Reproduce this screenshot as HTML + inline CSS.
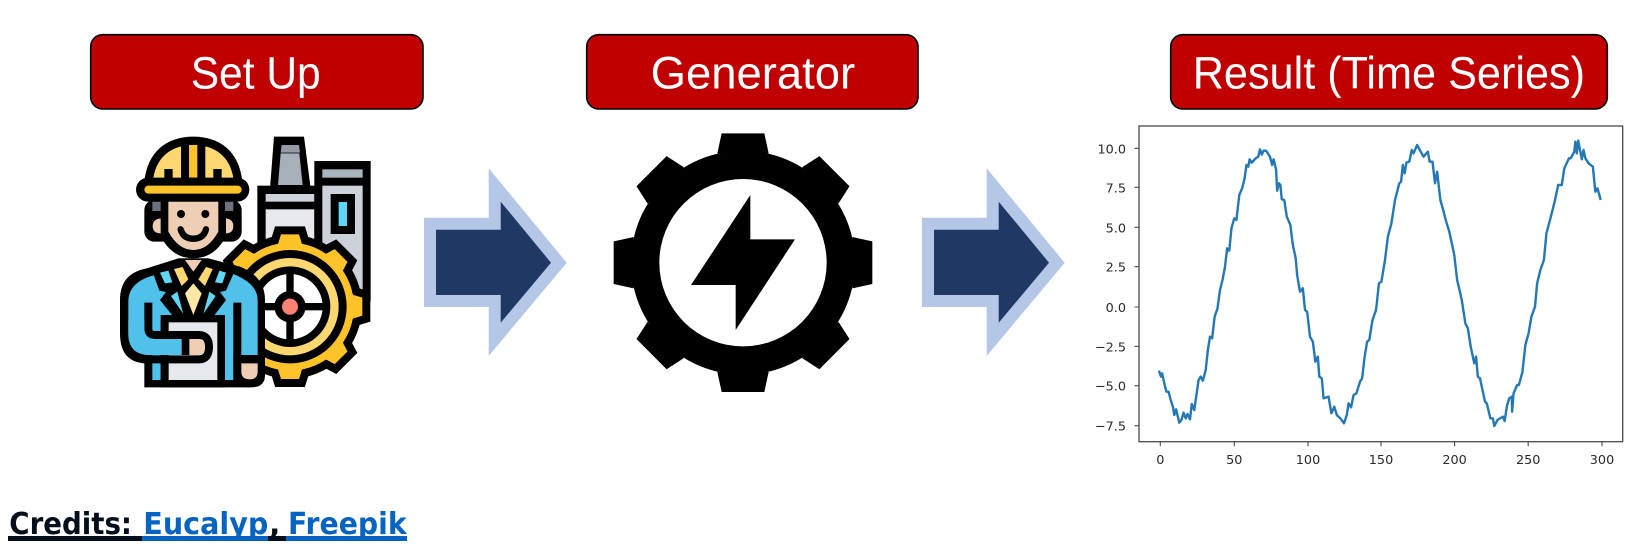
<!DOCTYPE html>
<html lang="en">
<head>
<meta charset="utf-8">
<title>Set Up, Generator, Result</title>
<style>
html,body{margin:0;padding:0;background:#fff;width:1650px;height:556px;overflow:hidden}
svg{display:block}
text{font-family:"Liberation Sans",sans-serif}
.t{fill:#fff;font-size:45px;text-anchor:start}
.c{font-family:"DejaVu Sans",sans-serif;font-weight:bold;font-size:30px}
.k{font-family:"DejaVu Sans",sans-serif;font-size:12.8px;fill:#2a2a2a}
</style>
</head>
<body>
<svg width="1650" height="556" viewBox="0 0 1650 556" xmlns="http://www.w3.org/2000/svg">
<rect width="1650" height="556" fill="#fff"/>

<!-- Header boxes -->
<rect x="90.7" y="34.7" width="332.3" height="74.3" rx="12" fill="#c00000" stroke="#000" stroke-width="1.6"/>
<rect x="586.7" y="34.7" width="331.3" height="74.3" rx="12" fill="#c00000" stroke="#000" stroke-width="1.6"/>
<rect x="1170.7" y="34.7" width="436.6" height="74.3" rx="12" fill="#c00000" stroke="#000" stroke-width="1.6"/>
<text class="t" x="190.7" y="88.3" textLength="130" lengthAdjust="spacingAndGlyphs">Set Up</text>
<text class="t" x="650.7" y="88.3" textLength="204.5" lengthAdjust="spacingAndGlyphs">Generator</text>
<text class="t" x="1192.7" y="88.3" textLength="392.3" lengthAdjust="spacingAndGlyphs">Result (Time Series)</text>

<!-- Arrows -->
<g>
<polygon points="424,217.7 488.7,217.7 488.7,168.3 566.7,262.7 488.7,356 488.7,307 424,307" fill="#b4c7e7"/>
<polygon points="436,229.7 500.7,229.7 500.7,201.7 551,262.7 500.7,322.7 500.7,295 436,295" fill="#203864"/>
</g>
<g transform="translate(498,0)">
<polygon points="424,217.7 488.7,217.7 488.7,168.3 566.7,262.7 488.7,356 488.7,307 424,307" fill="#b4c7e7"/>
<polygon points="436,229.7 500.7,229.7 500.7,201.7 551,262.7 500.7,322.7 500.7,295 436,295" fill="#203864"/>
</g>

<!-- Generator gear (3x coordinates) -->
<g transform="translate(410,120) scale(0.33333)">
<circle cx="999" cy="428" r="336" fill="#000"/>
<polygon points="935,40 1063,40 1076,100 922,100" fill="#000"/>
<polygon points="935,40 1063,40 1076,100 922,100" transform="rotate(45 999 428)"/>
<polygon points="935,40 1063,40 1076,100 922,100" transform="rotate(90 999 428)"/>
<polygon points="935,40 1063,40 1076,100 922,100" transform="rotate(135 999 428)"/>
<polygon points="935,40 1063,40 1076,100 922,100" transform="rotate(180 999 428)"/>
<polygon points="935,40 1063,40 1076,100 922,100" transform="rotate(225 999 428)"/>
<polygon points="935,40 1063,40 1076,100 922,100" transform="rotate(270 999 428)"/>
<polygon points="935,40 1063,40 1076,100 922,100" transform="rotate(315 999 428)"/>
<circle cx="999" cy="428" r="251" fill="#fff"/>
<polygon points="1021,225 1021,358 1155,358 977,630 977,495 843,495" fill="#000"/>
</g>

<!-- Worker icon (3x coordinates) -->
<g transform="translate(100,120) scale(0.33333)">
<!-- factory -->
<polygon points="522,50 612,50 632,205 510,205" fill="#000"/>
<polygon points="545,75 597,75 600,98 542,98" fill="#959ba6"/>
<polygon points="542,100 598,100 608,195 534,195" fill="#a8b0ba"/>
<rect x="472" y="197" width="180" height="220" fill="#000"/>
<rect x="497" y="222" width="146" height="23" fill="#cdd2db"/>
<rect x="497" y="268" width="146" height="100" fill="#e5e8ec"/>
<rect x="643" y="123" width="169" height="420" fill="#000"/>
<rect x="667" y="148" width="121" height="25" fill="#a8b4bd"/>
<rect x="667" y="197" width="121" height="330" fill="#cdd1da"/>
<rect x="692" y="222" width="73" height="120" fill="#000"/>
<rect x="716" y="246" width="25" height="72" fill="#5fd6f4"/>

<!-- small gear -->
<g fill="#000" stroke="#000" stroke-width="48" stroke-linejoin="miter">
<circle cx="570" cy="560" r="192"/>
<polygon points="543,343 597,343 610,385 530,385"/>
<polygon points="543,343 597,343 610,385 530,385" transform="rotate(45 570 560)"/>
<polygon points="543,343 597,343 610,385 530,385" transform="rotate(90 570 560)"/>
<polygon points="543,343 597,343 610,385 530,385" transform="rotate(135 570 560)"/>
<polygon points="543,343 597,343 610,385 530,385" transform="rotate(180 570 560)"/>
<polygon points="543,343 597,343 610,385 530,385" transform="rotate(225 570 560)"/>
<polygon points="543,343 597,343 610,385 530,385" transform="rotate(270 570 560)"/>
<polygon points="543,343 597,343 610,385 530,385" transform="rotate(315 570 560)"/>
</g>
<g fill="#fdc328">
<circle cx="570" cy="560" r="192"/>
<polygon points="543,343 597,343 610,385 530,385"/>
<polygon points="543,343 597,343 610,385 530,385" transform="rotate(45 570 560)"/>
<polygon points="543,343 597,343 610,385 530,385" transform="rotate(90 570 560)"/>
<polygon points="543,343 597,343 610,385 530,385" transform="rotate(135 570 560)"/>
<polygon points="543,343 597,343 610,385 530,385" transform="rotate(180 570 560)"/>
<polygon points="543,343 597,343 610,385 530,385" transform="rotate(225 570 560)"/>
<polygon points="543,343 597,343 610,385 530,385" transform="rotate(270 570 560)"/>
<polygon points="543,343 597,343 610,385 530,385" transform="rotate(315 570 560)"/>
</g>
<circle cx="570" cy="560" r="170" fill="#000"/>
<circle cx="570" cy="560" r="146" fill="#fdd770"/>
<circle cx="570" cy="560" r="121" fill="#000"/>
<circle cx="570" cy="560" r="98" fill="#fff"/>
<rect x="559" y="460" width="22" height="200" fill="#000"/>
<rect x="470" y="549" width="200" height="22" fill="#000"/>
<circle cx="570" cy="560" r="47" fill="#000"/>
<circle cx="570" cy="560" r="24" fill="#fd8173"/>

<!-- body -->
<path d="M140,445 L235,415 L325,415 L420,440 Q495,470 495,540 L495,765 Q495,802 455,802 L133,802 L133,730 Q60,725 60,640 L60,540 Q60,460 140,445 Z" fill="#000"/>
<path d="M165,465 Q85,485 85,545 L85,640 Q85,705 150,705 L157,705 L157,780 L182,780 L182,600 L375,600 L375,780 L400,780 L400,705 L473,705 L473,540 Q473,485 380,455 Z" fill="#4fc1ea"/>
<!-- paper -->
<rect x="182" y="585" width="193" height="217" fill="#000"/>
<rect x="206" y="607" width="146" height="173" fill="#e5e8ec"/>
<!-- arm -->
<path d="M145,548 L145,625 Q145,645 165,645 L296,645 Q327,645 327,681 Q327,718 296,718 L135,718" fill="none" stroke="#000" stroke-width="24"/>
<path d="M85,600 L85,640 Q85,705 150,705 L245,705 L245,657 L160,657 Q133,657 133,630 L133,600 Z" fill="#4fc1ea"/>
<rect x="245" y="657" width="24" height="48" fill="#000"/>
<path d="M268,657 L292,657 Q315,660 315,682 Q315,705 290,705 L268,705 Z" fill="#eecfb6"/>
<!-- right sleeve -->
<path d="M412,548 L412,760 Q412,790 445,790" fill="none" stroke="#000" stroke-width="24"/>
<rect x="424" y="705" width="71" height="25" fill="#000"/>
<path d="M424,730 L473,730 L473,755 Q473,778 449,778 Q424,778 424,755 Z" fill="#eecfb6"/>
<!-- collar -->
<polygon points="160,462 235,415 325,415 400,462 378,512 360,516 378,540 340,590 220,590 180,540 198,516 178,512" fill="#000"/>
<polygon points="255,420 305,420 280,455" fill="#eecfb6"/>
<polygon points="222,447 248,441 265,478 245,498" fill="#fdd770"/>
<polygon points="295,478 318,441 338,447 315,498" fill="#fdd770"/>
<polygon points="180,458 205,452 217,487 195,490" fill="#5fd6f4"/>
<polygon points="358,452 378,458 367,490 345,487" fill="#5fd6f4"/>
<polygon points="280,490 305,520 280,585 255,520" fill="#fde9a5"/>
<polygon points="213,528 232,515 250,582" fill="#5fd6f4"/>
<polygon points="347,528 328,515 310,582" fill="#5fd6f4"/>

<!-- head -->
<rect x="133" y="240" width="292" height="125" rx="30" fill="#000"/>
<path d="M180,300 L380,300 L380,345 Q345,415 280,415 Q215,415 180,345 Z" fill="#000"/>
<rect x="157" y="245" width="25" height="28" fill="#6c727f"/>
<rect x="375" y="245" width="25" height="28" fill="#6c727f"/>
<path d="M182,295 Q158,298 158,318 Q158,340 182,340 Z" fill="#eecfb6"/>
<path d="M378,295 Q400,298 400,318 Q400,340 378,340 Z" fill="#eecfb6"/>
<path d="M205,245 L355,245 L355,335 Q325,390 280,390 Q235,390 205,335 Z" fill="#eecfb6"/>
<circle cx="243" cy="282" r="12" fill="#000"/>
<circle cx="316" cy="282" r="12" fill="#000"/>
<path d="M242,328 Q250,356 280,356 Q310,356 318,328" fill="none" stroke="#000" stroke-width="19" stroke-linecap="round"/>

<!-- helmet -->
<path d="M133,185 C142,95 200,50 280,50 C360,50 418,95 427,185 Z" fill="#000"/>
<path d="M160,174 C170,110 215,75 280,75 C345,75 390,110 400,174 Z" fill="#fdd770"/>
<rect x="243" y="72" width="73" height="104" fill="#000"/>
<rect x="267" y="75" width="25" height="98" fill="#fdc328"/>
<rect x="193" y="147" width="25" height="28" fill="#000"/>
<rect x="340" y="147" width="25" height="28" fill="#000"/>
<rect x="108" y="173" width="340" height="72" rx="36" fill="#000"/>
<rect x="133" y="197" width="292" height="24" rx="12" fill="#fdc328"/>
</g>

<!-- Chart -->
<rect x="1139" y="126" width="483.7" height="315.7" fill="#fff" stroke="#4a4a4a" stroke-width="1.3"/>
<g stroke="#4a4a4a" stroke-width="1.1" fill="none">
<path d="M1160.3,441.7v4.5M1234.3,441.7v4.5M1308,441.7v4.5M1381,441.7v4.5M1454.6,441.7v4.5M1528.2,441.7v4.5M1602,441.7v4.5"/>
<path d="M1139,148.3h-4.5M1139,187.3h-4.5M1139,227.3h-4.5M1139,266.7h-4.5M1139,307h-4.5M1139,346.3h-4.5M1139,385.7h-4.5M1139,425.7h-4.5"/>
</g>
<g style="filter:blur(0.3px)">
<g text-anchor="end">
<text class="k" x="1126" y="153.3">10.0</text>
<text class="k" x="1126" y="192.3">7.5</text>
<text class="k" x="1126" y="232.3">5.0</text>
<text class="k" x="1126" y="271.7">2.5</text>
<text class="k" x="1126" y="312">0.0</text>
<text class="k" x="1126" y="351.3">−2.5</text>
<text class="k" x="1126" y="390.7">−5.0</text>
<text class="k" x="1126" y="430.7">−7.5</text>
</g>
<g text-anchor="middle">
<text class="k" x="1160.3" y="464">0</text>
<text class="k" x="1234.3" y="464">50</text>
<text class="k" x="1308" y="464">100</text>
<text class="k" x="1381" y="464">150</text>
<text class="k" x="1454.6" y="464">200</text>
<text class="k" x="1528.2" y="464">250</text>
<text class="k" x="1602" y="464">300</text>
</g>
</g>
<g transform="translate(1060,120) scale(0.35714,0.33333)">
<polyline fill="none" stroke="#2478b6" stroke-width="2.4" vector-effect="non-scaling-stroke" stroke-linejoin="round" points="277,752 283,770 286,760 289,775 293,795 298,815 304,815 310,840 316,860 320,885 325,868 330,890 334,908 340,900 346,878 352,895 357,882 364,898 369,852 376,870 382,825 388,780 394,770 400,782 408,750 414,690 420,650 426,655 433,590 441,565 448,510 455,480 462,440 468,385 474,392 480,325 488,295 494,300 502,225 510,205 517,175 522,135 527,140 531,118 537,128 548,115 555,110 560,88 565,104 570,92 577,92 588,110 594,135 598,118 605,148 608,212 613,190 617,195 621,238 628,240 635,290 645,315 652,375 660,415 664,465 672,515 680,505 686,570 692,575 700,650 708,665 715,725 722,710 726,770 733,775 738,835 752,830 760,880 768,860 775,885 785,895 795,910 803,885 808,850 815,862 822,825 830,820 840,785 846,775 853,710 860,665 866,660 875,600 885,570 893,490 900,485 910,420 918,350 928,310 938,240 950,190 955,185 960,135 965,160 970,128 978,125 985,90 990,100 1000,75 1010,95 1018,110 1030,95 1035,125 1043,125 1050,190 1056,155 1065,240 1073,270 1080,300 1090,335 1095,360 1104,405 1112,480 1125,540 1135,610 1142,625 1150,680 1160,730 1165,710 1170,770 1176,775 1185,820 1190,845 1195,850 1205,895 1212,895 1216,918 1225,900 1240,890 1245,903 1252,855 1258,835 1265,830 1266,875 1270,820 1280,795 1285,795 1295,755 1303,675 1312,640 1320,590 1330,560 1336,490 1345,450 1355,420 1362,340 1372,300 1385,245 1395,195 1405,195 1412,145 1425,115 1430,115 1435,105 1440,95 1443,65 1447,100 1451,62 1457,95 1461,118 1466,90 1471,115 1480,130 1492,140 1499,215 1505,205 1514,240"/>
</g>

<!-- Credits -->
<rect x="8" y="536" width="134" height="5" fill="#020f1a"/>
<rect x="142" y="536" width="126" height="5" fill="#0563c1"/>
<rect x="268" y="536" width="18" height="5" fill="#020f1a"/>
<rect x="286" y="536" width="121" height="5" fill="#0563c1"/>
<text class="c" x="9.3" y="534" fill="#020f1a" textLength="122.7" lengthAdjust="spacingAndGlyphs">Credits:</text>
<text class="c" x="143.3" y="534" fill="#0563c1" textLength="125" lengthAdjust="spacingAndGlyphs">Eucalyp</text>
<text class="c" x="269" y="534" fill="#020f1a">,</text>
<text class="c" x="288" y="534" fill="#0563c1" textLength="118.7" lengthAdjust="spacingAndGlyphs">Freepik</text>
</svg>
</body>
</html>
